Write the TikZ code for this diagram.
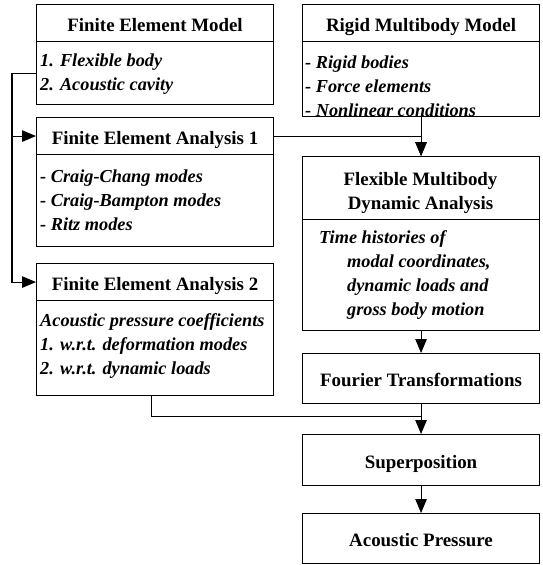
\documentclass[tikz,border=0pt]{standalone}
\usepackage{fontspec}
\setmainfont{Liberation Serif}
\usetikzlibrary{arrows.meta,calc}
\begin{document}
\begin{tikzpicture}[x=1pt,y=-1pt,
  box/.style={draw, line width=1.1pt, anchor=north west, inner sep=0pt, minimum width=237pt},
  hdr/.style={font=\fontsize{18.9}{24}\selectfont\bfseries, align=center},
  hdrone/.style={hdr, text height=16pt, text depth=0pt},
  bodytxt/.style={font=\fontsize{18.3}{24}\selectfont\bfseries\itshape, align=left, anchor=west, inner sep=0pt},
  conn/.style={line width=1.1pt},
  arr/.style={conn, -{Triangle[length=14pt,width=11.5pt]}}]
\useasboundingbox (0,0) rectangle (543,565);

% left column
\node[box, hdrone, minimum height=37pt] (femh) at (36,4) {Finite Element Model};
\node[box, minimum height=63pt] (femb) at (36,41) {};
\node[bodytxt] (femt) at (40,74) {1. Flexible body\\2. Acoustic cavity};

\node[box, hdrone, minimum height=37pt] (fea1h) at (36,117) {Finite Element Analysis 1};
\node[box, minimum height=92pt] (fea1b) at (36,154) {};
\node[bodytxt] (fea1t) at (40,200) {- Craig-Chang modes\\- Craig-Bampton modes\\- Ritz modes};

\node[box, hdrone, minimum height=37pt] (fea2h) at (36,263) {Finite Element Analysis 2};
\node[box, minimum height=95pt] (fea2b) at (36,300) {};
\node[bodytxt] (fea2t) at (40,346) {Acoustic pressure coefficients\\1. w.r.t. deformation modes\\2. w.r.t. dynamic loads};

% right column
\node[box, hdrone, minimum height=37pt] (rmbh) at (302,4) {Rigid Multibody Model};
\node[box, minimum height=75pt] (rmbb) at (302,41) {};
\node[bodytxt] (rmbt) at (305,86) {- Rigid bodies\\- Force elements\\- Nonlinear conditions};

\node[box, minimum height=63pt] (fmdh) at (302,156) {};
\node[hdr, inner sep=0pt] (fmdht) at (420.5,193) {Flexible Multibody\\Dynamic Analysis};
\node[box, minimum height=111pt] (fmdb) at (302,219) {};
\node[bodytxt] (fmdt) at (319,275) {Time histories of\\\hspace*{28pt}modal coordinates,\\\hspace*{28pt}dynamic loads and\\\hspace*{28pt}gross body motion};

\node[box, hdrone, minimum height=50pt] (four) at (302,353) {Fourier Transformations};
\node[box, hdrone, minimum height=51pt] (sup) at (302,434) {Superposition};
\node[box, hdrone, minimum height=50pt] (ap) at (302,513) {Acoustic Pressure};

% connectors
\draw[arr] (femb.west) -- ++(-24,0) |- (fea1h.west);
\draw[arr] (femb.west) -- ++(-24,0) |- (fea2h.west);
\draw[arr] (fea1h.east) -| (fmdh.north);
\draw[arr] (rmbb.south) -- (fmdh.north);
\draw[arr] (fmdb.south) -- (four.north);
\draw[arr] (four.south) -- (sup.north);
\coordinate (join) at ($(four.south)!0.42!(sup.north)$);
\draw[conn] ([xshift=-4pt]fea2b.south) |- (join);
\draw[arr] (sup.south) -- (ap.north);
\end{tikzpicture}
\end{document}
